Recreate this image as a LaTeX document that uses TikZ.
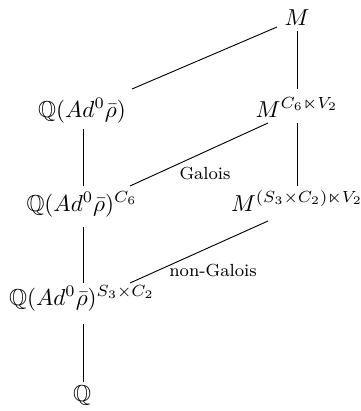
\documentclass[tikz,border=0pt]{standalone}
\usepackage{amssymb}
\begin{document}
\begin{tikzpicture}[x=0.433pt,y=-0.433pt,
  fld/.style={inner sep=0pt, anchor=base},
  lbl/.style={inner sep=0pt, font=\fontsize{7.6}{9}\selectfont},
  edge/.style={line width=0.4pt}]
\useasboundingbox (0,0) rectangle (361,411);
\node[fld] (M)   at (297,25)  {$M$};
\node[fld] (Q1)  at (82,117)  {$\mathbb{Q}(Ad^0\bar\rho)$};
\node[fld] (MC)  at (297,117) {$M^{C_6\ltimes V_2}$};
\node[fld] (Q2)  at (82,211)  {$\mathbb{Q}(Ad^0\bar\rho)^{C_6}$};
\node[fld] (M2)  at (297,211) {$M^{(S_3\times C_2)\ltimes V_2}$};
\node[fld] (Q3)  at (82,305)  {$\mathbb{Q}(Ad^0\bar\rho)^{S_3\times C_2}$};
\node[fld] (Q)   at (82,401)  {$\mathbb{Q}$};
\draw[edge] ([shift={(-20,2)}]M.base) -- ([shift={(50,-28)}]Q1.base);
\draw[edge] ([shift={(0,6)}]M.base) -- ([shift={(0,-28)}]MC.base);
\draw[edge] ([shift={(1,12)}]Q1.base) -- ([shift={(1,-25)}]Q2.base);
\draw[edge] ([shift={(-29,6)}]MC.base) -- ([shift={(48,-25)}]Q2.base);
\draw[edge] ([shift={(0,6)}]MC.base) -- ([shift={(0,-25)}]M2.base);
\draw[edge] ([shift={(1,16)}]Q2.base) -- ([shift={(1,-22)}]Q3.base);
\draw[edge] ([shift={(-29,10)}]M2.base) -- ([shift={(48,-22)}]Q3.base);
\draw[edge] ([shift={(1,19)}]Q3.base) -- ([shift={(1,-19)}]Q.base);
\node[lbl] (gal)  at (205,174) {Galois};
\node[lbl] (ngal) at (213,271) {non-Galois};
\end{tikzpicture}
\end{document}
